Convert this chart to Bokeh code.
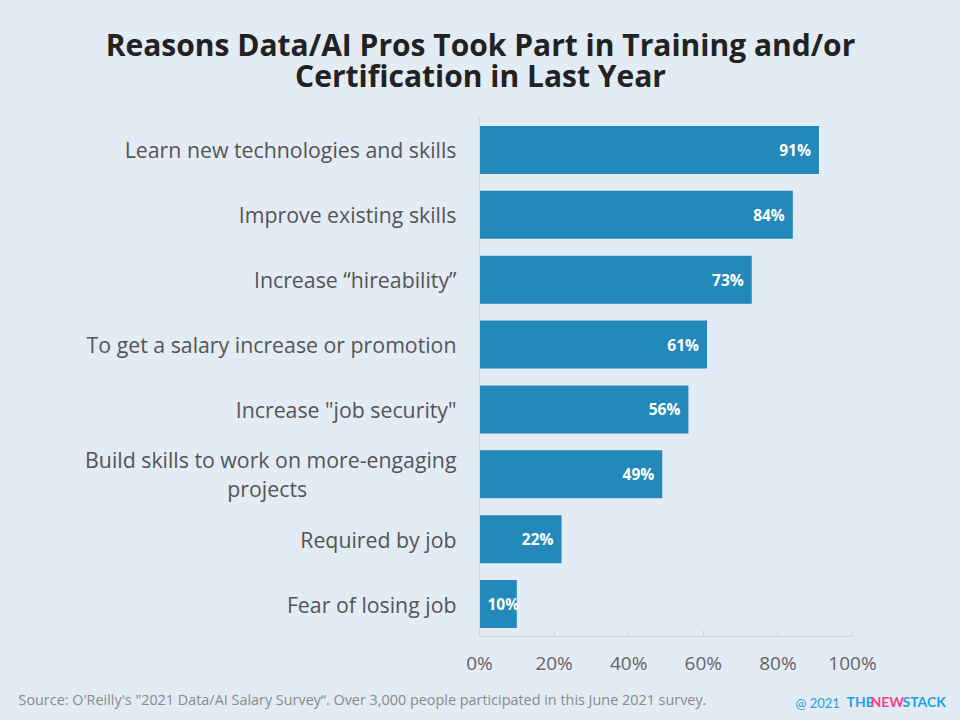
from bokeh.plotting import figure
from bokeh.models import FactorRange, ColumnDataSource, Range1d, CustomJSTickFormatter
from bokeh.core.properties import value
from bokeh.layouts import column
from bokeh.embed import file_html
from bokeh.resources import INLINE

NBSP = "\u00a0"
categories = [
    "Learn new technologies and skills",
    "Improve existing skills",
    "Increase \u201chireability\u201d",
    "To get a salary increase or promotion",
    "Increase \"job security\"",
    "Build skills to work on more-engaging\nprojects" + NBSP * 27,
    "Required by job",
    "Fear of losing job",
]
values = [91, 84, 73, 61, 56, 49, 22, 10]
value_labels = [f"{v}%" for v in values]
x_ticks = [0, 20, 40, 60, 80, 100]
title_lines = ["Reasons Data/AI Pros Took Part in Training and/or", "Certification in Last Year"]
source_note = "Source: O'Reilly's \"2021 Data/AI Salary Survey\u201c. Over 3,000 people participated in this June 2021 survey."
logo_parts = ["THE", "NEW", "STACK"]

BG = "#E3EBF4"
BAR = "#2389BA"
AXIS = "#D6D3CB"
W = 960
STY = {"background-color": BG}

def no_align(f):
    try:
        f.frame_align = False
    except Exception:
        pass

def blank(height, y0, y1):
    f = figure(width=W, height=height, x_range=Range1d(0, W), y_range=Range1d(y1, y0),
               x_axis_type=None, y_axis_type=None, output_backend="svg", toolbar_location=None,
               min_border=0, min_border_left=0, min_border_right=0, min_border_top=0,
               min_border_bottom=0, background_fill_color=BG, border_fill_color=BG,
               outline_line_color=None, styles=STY)
    f.xgrid.visible = False
    f.ygrid.visible = False
    no_align(f)
    return f

# header
head = blank(100, 0, 100)
head.text(x=[480, 480], y=[44, 75], text=title_lines, text_align="center", text_baseline="middle",
          text_font=value("Open Sans"), text_font_style="bold", text_font_size="30px",
          text_color="#222222")

# main chart
wide = [i for i, v in enumerate(values) if v >= 15]
narrow = [i for i, v in enumerate(values) if v < 15]
src = ColumnDataSource(dict(cat=categories, val=values, lab=value_labels))
src_w = ColumnDataSource(dict(cat=[categories[i] for i in wide], val=[values[i] for i in wide],
                              lab=[value_labels[i] for i in wide]))
src_n = ColumnDataSource(dict(cat=[categories[i] for i in narrow], val=[values[i] for i in narrow],
                              lab=[value_labels[i] for i in narrow]))
p = figure(
    width=W, height=580,
    y_range=FactorRange(factors=list(reversed(categories)), range_padding=0),
    x_range=(0, 100),
    output_backend="svg", toolbar_location=None,
    min_border_left=479, min_border_right=108, min_border_top=17, min_border_bottom=44,
    background_fill_color=BG, border_fill_color=BG,
    outline_line_color=None, styles=STY,
)
no_align(p)
p.hbar(y="cat", right="val", left=0, height=0.74, source=src, color=BAR, line_color=None)
lab_kw = dict(text_baseline="middle", text_color="white", text_font=value("Open Sans"),
              text_font_style="bold", text_font_size="15.5px")
p.text(x="val", y="cat", text="lab", source=src_w, x_offset=-8, text_align="right", **lab_kw)
p.text(x=0, y="cat", text="lab", source=src_n, x_offset=8, text_align="left", **lab_kw)
p.xgrid.visible = False
p.ygrid.visible = False

xa = p.xaxis[0]
xa.ticker = x_ticks
xa.formatter = CustomJSTickFormatter(code="return tick + '%';")
xa.axis_line_color = AXIS
xa.major_tick_line_color = AXIS
xa.major_tick_in = 6
xa.major_tick_out = 0
xa.minor_tick_line_color = None
xa.major_label_text_font = "Open Sans"
xa.major_label_text_font_size = "19px"
xa.major_label_text_color = "#666666"
xa.major_label_standoff = 13

ya = p.yaxis[0]
ya.axis_line_color = AXIS
ya.major_tick_line_color = None
ya.minor_tick_line_color = None
ya.major_label_text_font = "Open Sans"
ya.major_label_text_font_size = "21.3px"
ya.major_label_text_color = "#555555"
ya.major_label_text_line_height = 1.0
ya.major_label_standoff = 17

# footer
foot = blank(40, 680, 720)
foot.text(x=[18], y=[699], text=[source_note], text_align="left", text_baseline="middle",
          text_font=value("Open Sans"), text_font_size="14.4px", text_color="#8a8a8a")
foot.text(x=[795], y=[702], text=["@ 2021"], text_align="left", text_baseline="middle",
          text_font=value("Lato"), text_font_size="13px", text_color="#1BA1E2")
foot.text(x=[846, 870, 902], y=[701, 701, 701], text=logo_parts,
          color=["#1BA1E2", "#FF3D8E", "#1BA1E2"], text_align="left", text_baseline="middle",
          text_font=value("Lato"), text_font_style="bold", text_font_size="14px")

layout = column(column(head, styles=STY), p, column(foot, styles=STY), spacing=0, styles=STY)
open("out.html", "w").write(file_html(layout, INLINE))
